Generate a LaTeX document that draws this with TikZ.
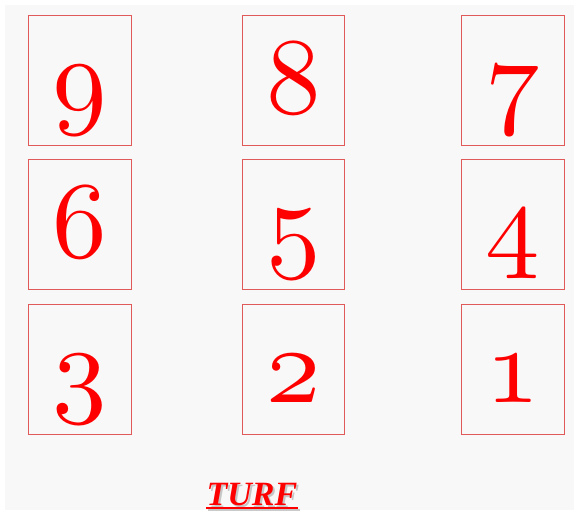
\documentclass[tikz,border=0pt]{standalone}
\usepackage{fontspec}
\newfontfamily\turffont{Liberation Serif}
\usepackage{tikz}
\usetikzlibrary{positioning}
\definecolor{boxred}{HTML}{E05A5A}
\definecolor{pagegray}{HTML}{F8F8F8}
% scalable old-style digits
\DeclareFontFamily{OML}{osd}{\skewchar\font127 }
\DeclareFontShape{OML}{osd}{m}{it}{<-> cmmi10}{}
\newcommand\digitfont{\fontsize{109}{109}\usefont{OML}{osd}{m}{it}}
\tikzset{
  numbox/.style={draw=boxred, line width=0.8pt, minimum width=102.5pt, minimum height=130pt,
                 inner sep=0pt, text height=98pt, text depth=32pt, text=red, font=\digitfont},
  turftext/.style={font=\turffont\bfseries\itshape\fontsize{34}{34}\selectfont, inner sep=0pt, anchor=base},
  turfline/.style={line width=1.8pt}
}

\begin{document}
\begin{tikzpicture}[x=1pt, y=-1pt, node distance=14pt and 110pt]
\useasboundingbox (0,0) rectangle (578,514);
\fill[pagegray] (5,5) rectangle (574,510);
% top row
\node[numbox] (n9) at (80,80) {9};
\node[numbox, right=of n9] (n8) {8};
\node[numbox, right=116.5pt of n8] (n7) {7};
% middle row
\node[numbox, below=of n9] (n6) {6};
\node[numbox, below=of n8] (n5) {5};
\node[numbox, below=of n7] (n4) {4};
% bottom row
\node[numbox, below=of n6] (n3) {3};
\node[numbox, below=of n5] (n2) {2};
\node[numbox, below=of n4] (n1) {1};
% title with shadow
\node[turftext, text=gray!70, opacity=0.6] (turfshadow) at (254,507) {TURF};
\draw[turfline, gray!70, opacity=0.6] ([yshift=-3pt]turfshadow.base west) -- ([yshift=-3pt]turfshadow.base east);
\node[turftext, text=red] (turf) at (252,505) {TURF};
\draw[turfline, red] ([yshift=-3pt]turf.base west) -- ([yshift=-3pt]turf.base east);
\end{tikzpicture}
\end{document}
